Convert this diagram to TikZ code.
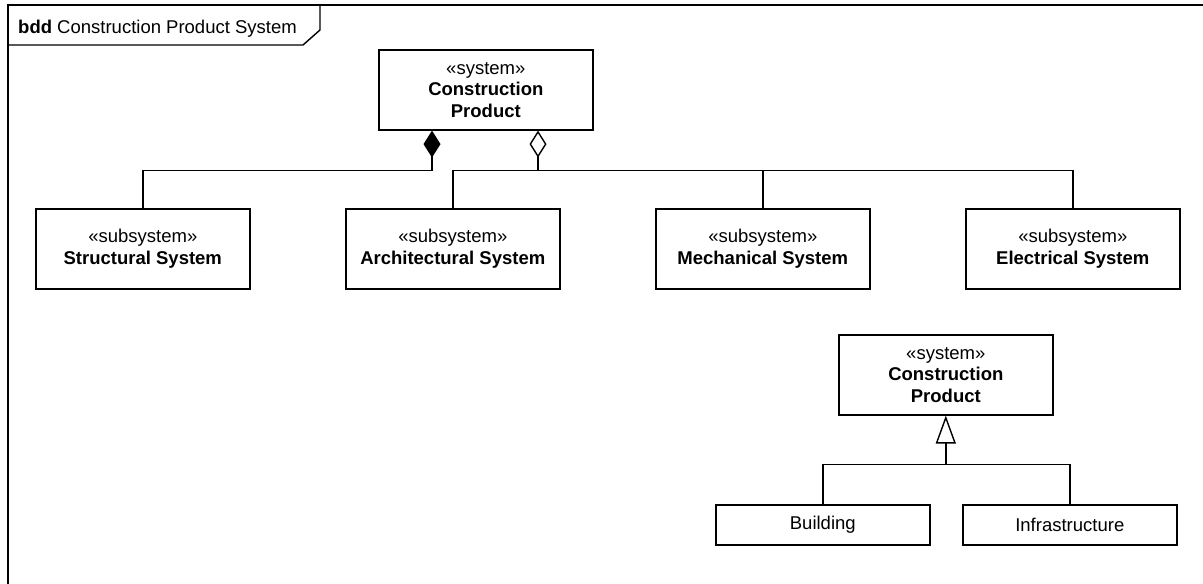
\documentclass[tikz,border=0pt]{standalone}
\usepackage{fontspec}
\setmainfont{Liberation Sans}
\usetikzlibrary{arrows.meta,calc}
\begin{document}
\begin{tikzpicture}[x=1pt,y=-1pt,
  umlfont/.style={font=\fontsize{18.5}{21.5}\selectfont},
  block/.style={draw, line width=1.6pt, minimum width=214pt, inner sep=0pt,
    align=center, anchor=north west, umlfont},
  tallblock/.style={block, minimum height=80pt},
  flatblock/.style={block, minimum height=40pt},
  wire/.style={line width=1.4pt},
  composite/.style={wire, -{Diamond[fill=black, length=27pt, width=17pt, line width=1.4pt]}},
  shared/.style={wire, -{Diamond[open, fill=white, length=27pt, width=17pt, line width=1.4pt]}},
  generalize/.style={wire, -{Triangle[open, fill=white, length=28pt, width=20pt, line width=1.4pt]}},
  framestroke/.style={line width=1.4pt}
]
\useasboundingbox (0,0) rectangle (1203,584);

% diagram frame and its name tab
\draw[framestroke] (8,584) -- (8,5) -- (1203,5);
\draw[framestroke] (8,45) -- (303,45) -- (320,30) -- (320,5);
\node[umlfont, anchor=base west, inner sep=0pt] (title) at (18,33)
  {\textbf{bdd} Construction Product System};

% blocks
\node[tallblock] (product) at (378,49)
  {«system»\\\textbf{Construction}\\\textbf{Product}};
\node[tallblock] (structural) at (35,208) {«subsystem»\\\textbf{Structural System}};
\node[tallblock] (architectural) at (345,208) {«subsystem»\\\textbf{Architectural System}};
\node[tallblock] (mechanical) at (655,208) {«subsystem»\\\textbf{Mechanical System}};
\node[tallblock] (electrical) at (965,208) {«subsystem»\\\textbf{Electrical System}};

\node[tallblock] (product2) at (838,334)
  {«system»\\\textbf{Construction}\\\textbf{Product}};
\node[flatblock] (building) at (715,504) {Building};
\node[flatblock] (infra) at (962,504) {Infrastructure};

% composition
\coordinate (compTip) at ([xshift=54pt]product.south west);
\draw[composite] (structural.north) |- ($(compTip)+(0,40)$) -- (compTip);

% shared aggregation tree
\coordinate (aggTip) at ([xshift=160pt]product.south west);
\coordinate (aggJoin) at ($(aggTip)+(0,40)$);
\draw[shared] (aggJoin) -- (aggTip);
\draw[wire] (architectural.north) |- (aggJoin);
\draw[wire] (aggJoin) -| (electrical.north);
\draw[wire] (mechanical.north) -- (mechanical.north |- aggJoin);

% generalization tree
\coordinate (genJoin) at ($(product2.south)+(0,49)$);
\draw[generalize] (genJoin) -- (product2.south);
\draw[wire] (building.north) |- (genJoin) -| (infra.north);
\end{tikzpicture}
\end{document}
